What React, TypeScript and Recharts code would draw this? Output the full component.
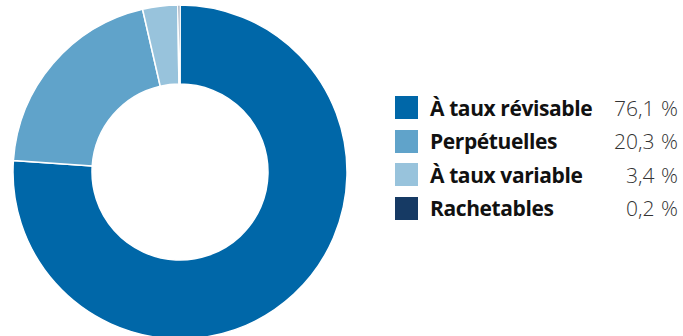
import React from "react";
import { PieChart, Pie, Cell, Legend } from "recharts";

const categories = ["À taux révisable", "Perpétuelles", "À taux variable", "Rachetables"];
const values = [76.1, 20.3, 3.4, 0.2];
const valueLabels = ["76,1\u00a0%", "20,3\u00a0%", "3,4\u00a0%", "0,2\u00a0%"];
const colors = ["#0067a8", "#60a3ca", "#98c3dc", "#163a64"];

const data = categories.map((name, i) => ({ name, value: values[i] }));

const LegendContent = () => (
  <div style={{ width: 283 }}>
    {categories.map((c, i) => (
      <div
        key={c}
        style={{
          display: "flex",
          alignItems: "center",
          height: 33.5,
          fontFamily: "'Open Sans', sans-serif",
          fontSize: 21,
        }}
      >
        <div style={{ width: 23, height: 23, background: colors[i], marginRight: 12, flexShrink: 0 }} />
        <div style={{ fontWeight: 700, color: "#111", flex: 1, whiteSpace: "nowrap", letterSpacing: -0.4 }}>{c}</div>
        <div style={{ fontWeight: 300, color: "#333", whiteSpace: "nowrap", wordSpacing: 1 }}>{valueLabels[i]}</div>
      </div>
    ))}
  </div>
);

export default function App() {
  return (
    <div style={{ position: "absolute", left: 0, top: 0, width: 683, height: 336, background: "#fff" }}>
      <PieChart width={683} height={336}>
        <Pie
          data={data}
          dataKey="value"
          cx={175}
          cy={167}
          innerRadius={88}
          outerRadius={167}
          startAngle={90}
          endAngle={-270}
          stroke="#fff"
          strokeWidth={1.5}
          isAnimationActive={false}
        >
          {data.map((d, i) => (
            <Cell key={d.name} fill={colors[i]} />
          ))}
        </Pie>
        <Legend
          content={<LegendContent />}
          wrapperStyle={{ position: "absolute", left: 395, top: 91, width: 283 }}
        />
      </PieChart>
    </div>
  );
}
